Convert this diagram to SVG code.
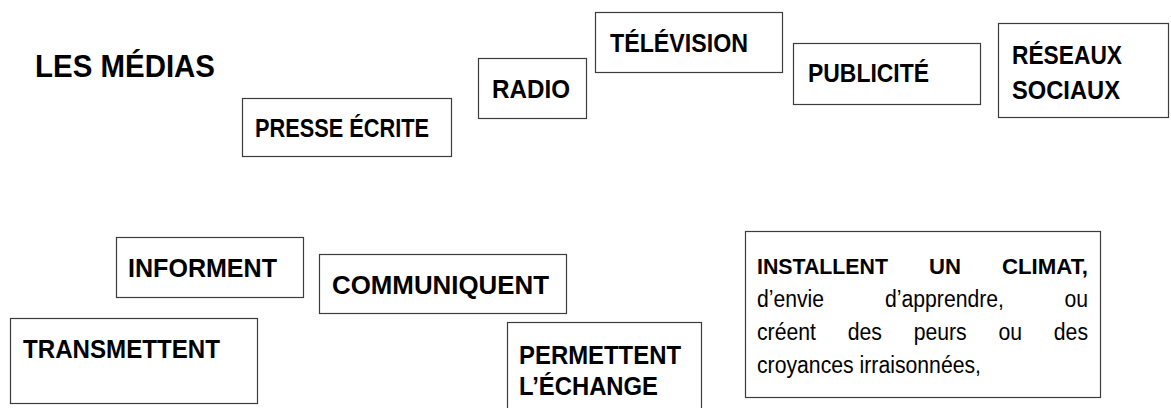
<svg xmlns="http://www.w3.org/2000/svg" width="1171" height="408" viewBox="0 0 1171 408">
<style>
.box{fill:#fff;stroke:#3c3c3c;stroke-width:1.2}
.lbl{font-family:"Liberation Sans",Arial,sans-serif;font-weight:bold;font-size:26px;fill:#000}
.title{font-family:"Liberation Sans",Arial,sans-serif;font-weight:bold;font-size:32px;fill:#000}
.b22{font-family:"Liberation Sans",Arial,sans-serif;font-weight:bold;font-size:22.5px;fill:#000}
.r23{font-family:"Liberation Sans",Arial,sans-serif;font-size:23px;fill:#000}
</style>
<rect width="1171" height="408" fill="#fff"/>
<g id="connectors"/>
<g id="title">
<text class="title" x="35" y="77" textLength="180" lengthAdjust="spacingAndGlyphs">LES MÉDIAS</text>
</g>
<g id="presse">
<rect class="box" x="242.5" y="98.5" width="209" height="58"/>
<text class="lbl" x="255" y="137" textLength="174" lengthAdjust="spacingAndGlyphs">PRESSE ÉCRITE</text>
</g>
<g id="radio">
<rect class="box" x="478.5" y="58.5" width="108" height="60"/>
<text class="lbl" x="492" y="98" textLength="78" lengthAdjust="spacingAndGlyphs">RADIO</text>
</g>
<g id="television">
<rect class="box" x="595.5" y="12.5" width="187" height="60"/>
<text class="lbl" x="610" y="52" textLength="138" lengthAdjust="spacingAndGlyphs">TÉLÉVISION</text>
</g>
<g id="publicite">
<rect class="box" x="793.5" y="43.5" width="187" height="61"/>
<text class="lbl" x="808" y="82" textLength="121" lengthAdjust="spacingAndGlyphs">PUBLICITÉ</text>
</g>
<g id="reseaux">
<rect class="box" x="998.5" y="23.5" width="170" height="94"/>
<text class="lbl" x="1012" y="63.5" textLength="110" lengthAdjust="spacingAndGlyphs">RÉSEAUX</text>
<text class="lbl" x="1012" y="98.5" textLength="108" lengthAdjust="spacingAndGlyphs">SOCIAUX</text>
</g>
<g id="informent">
<rect class="box" x="116.5" y="237.5" width="187" height="60"/>
<text class="lbl" x="128" y="277" textLength="149" lengthAdjust="spacingAndGlyphs">INFORMENT</text>
</g>
<g id="communiquent">
<rect class="box" x="319.5" y="254.5" width="247" height="59"/>
<text class="lbl" x="332" y="294" textLength="217" lengthAdjust="spacingAndGlyphs">COMMUNIQUENT</text>
</g>
<g id="transmettent">
<rect class="box" x="10.5" y="318.5" width="247" height="85"/>
<text class="lbl" x="23" y="358" textLength="197" lengthAdjust="spacingAndGlyphs">TRANSMETTENT</text>
</g>
<g id="permettent">
<rect class="box" x="507.5" y="322.5" width="194" height="90"/>
<text class="lbl" x="519" y="364" textLength="162" lengthAdjust="spacingAndGlyphs">PERMETTENT</text>
<text class="lbl" x="519" y="395" textLength="139" lengthAdjust="spacingAndGlyphs">L’ÉCHANGE</text>
</g>
<g id="installent">
<rect class="box" x="745.5" y="231.5" width="355" height="166"/>
<text class="b22" x="757" y="274" textLength="131" lengthAdjust="spacingAndGlyphs">INSTALLENT</text>
<text class="b22" x="929" y="274" textLength="32" lengthAdjust="spacingAndGlyphs">UN</text>
<text class="b22" x="1002" y="274" textLength="86" lengthAdjust="spacingAndGlyphs">CLIMAT,</text>
<text class="r23" x="757" y="307" textLength="67" lengthAdjust="spacingAndGlyphs">d’envie</text>
<text class="r23" x="885" y="307" textLength="119" lengthAdjust="spacingAndGlyphs">d’apprendre,</text>
<text class="r23" x="1064.4" y="307" textLength="23.6" lengthAdjust="spacingAndGlyphs">ou</text>
<text class="r23" x="757" y="340" textLength="59" lengthAdjust="spacingAndGlyphs">créent</text>
<text class="r23" x="847.7" y="340" textLength="34.2" lengthAdjust="spacingAndGlyphs">des</text>
<text class="r23" x="913.7" y="340" textLength="53" lengthAdjust="spacingAndGlyphs">peurs</text>
<text class="r23" x="998.5" y="340" textLength="23.6" lengthAdjust="spacingAndGlyphs">ou</text>
<text class="r23" x="1053.8" y="340" textLength="34.2" lengthAdjust="spacingAndGlyphs">des</text>
<text class="r23" x="757" y="373" textLength="224" lengthAdjust="spacingAndGlyphs">croyances irraisonnées,</text>
</g>
</svg>
